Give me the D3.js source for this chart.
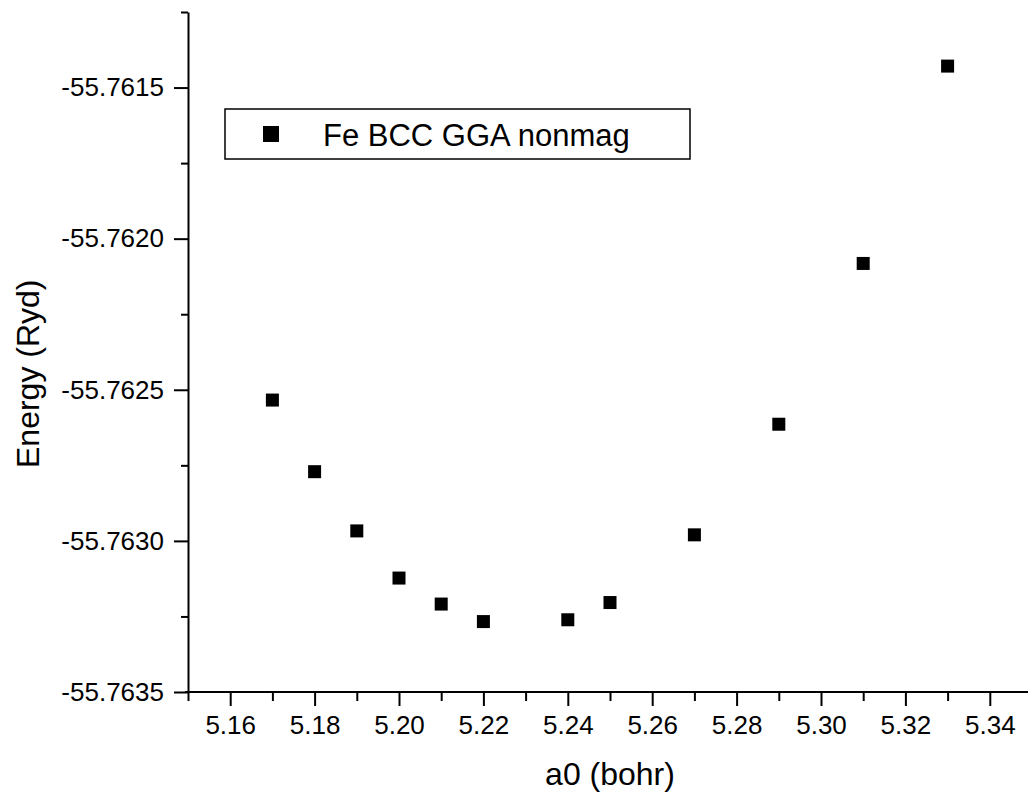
<!DOCTYPE html>
<html>
<head>
<meta charset="utf-8">
<script src="https://cdn.jsdelivr.net/npm/d3@7/dist/d3.min.js"></script>
<style>
  html, body { margin: 0; padding: 0; background: #fff; }
  svg { display: block; font-family: "Liberation Sans", Arial, Helvetica, sans-serif; }
</style>
</head>
<body>
<script>
// ---- data ----
const latticeA0 = [5.17, 5.18, 5.19, 5.20, 5.21, 5.22, 5.24, 5.25, 5.27, 5.29, 5.31, 5.33];
const energyRyd = [-55.762534, -55.762771, -55.762967, -55.763123, -55.763209, -55.763267,
                   -55.763261, -55.763204, -55.762980, -55.762614, -55.762082, -55.761429];
const xMajorTicks = [5.16, 5.18, 5.20, 5.22, 5.24, 5.26, 5.28, 5.30, 5.32, 5.34];
const xTickLabels = ["5.16", "5.18", "5.20", "5.22", "5.24", "5.26", "5.28", "5.30", "5.32", "5.34"];
const xMinorTicks = [5.15, 5.17, 5.19, 5.21, 5.23, 5.25, 5.27, 5.29, 5.31, 5.33, 5.35];
const yMajorTicks = [-55.7635, -55.7630, -55.7625, -55.7620, -55.7615];
const yTickLabels = ["-55.7635", "-55.7630", "-55.7625", "-55.7620", "-55.7615"];
const yMinorTicks = [-55.76325, -55.76275, -55.76225, -55.76175, -55.76125];
const seriesName = "Fe BCC GGA nonmag";
const xTitle = "a0 (bohr)";
const yTitle = "Energy (Ryd)";

// ---- layout ----
const W = 1028, H = 799;
const x = d3.scaleLinear().domain([5.15, 5.35]).range([188, 1032]);
const y = d3.scaleLinear().domain([-55.7635, -55.76125]).range([692, 12]);

const svg = d3.select("body").append("svg").attr("width", W).attr("height", H);

// X axis
const xAxis = svg.append("g").attr("transform", `translate(0,${y.range()[0]})`);
xAxis.call(d3.axisBottom(x).tickValues(xMajorTicks)
  .tickFormat((d, i) => xTickLabels[i]).tickSize(14).tickSizeOuter(0).tickPadding(10));
xAxis.append("g").call(d3.axisBottom(x).tickValues(xMinorTicks).tickFormat("").tickSize(9).tickSizeOuter(0))
  .select(".domain").remove();

// Y axis
const yAxis = svg.append("g").attr("transform", `translate(${x.range()[0]},0)`);
yAxis.call(d3.axisLeft(y).tickValues(yMajorTicks)
  .tickFormat((d, i) => yTickLabels[i]).tickSize(14).tickSizeOuter(0).tickPadding(10));
yAxis.append("g").call(d3.axisLeft(y).tickValues(yMinorTicks).tickFormat("").tickSize(7).tickSizeOuter(0))
  .select(".domain").remove();

svg.selectAll(".domain").attr("stroke", "#000").attr("stroke-width", 2);
svg.selectAll(".tick line").attr("stroke", "#000").attr("stroke-width", 2);
svg.selectAll(".tick text").attr("fill", "#000").style("font-size", "26px");

// extend x-axis line slightly left like the original
xAxis.select(".domain").attr("d", `M${x.range()[0] - 3},0H${W + 10}`);

// Axis titles
svg.append("text")
  .attr("x", (x(5.15) + x(5.35)) / 2).attr("y", 785)
  .attr("text-anchor", "middle").style("font-size", "32px").text(xTitle);
svg.append("text")
  .attr("transform", `translate(39,468) rotate(-90)`)
  .attr("text-anchor", "start").style("font-size", "32px").text(yTitle);

// Data markers
const ms = 13;
svg.append("g").selectAll("rect").data(latticeA0).join("rect")
  .attr("x", (d) => x(d) - ms / 2)
  .attr("y", (d, i) => y(energyRyd[i]) - ms / 2)
  .attr("width", ms).attr("height", ms).attr("fill", "#000");

// Legend
const lg = svg.append("g");
lg.append("rect").attr("x", 225).attr("y", 109).attr("width", 465).attr("height", 50)
  .attr("fill", "#fff").attr("stroke", "#000").attr("stroke-width", 1.5);
lg.append("rect").attr("x", 271 - 8).attr("y", 134 - 8).attr("width", 16).attr("height", 16).attr("fill", "#000");
lg.append("text").attr("x", 323).attr("y", 146).style("font-size", "31px").text(seriesName);
</script>
</body>
</html>
